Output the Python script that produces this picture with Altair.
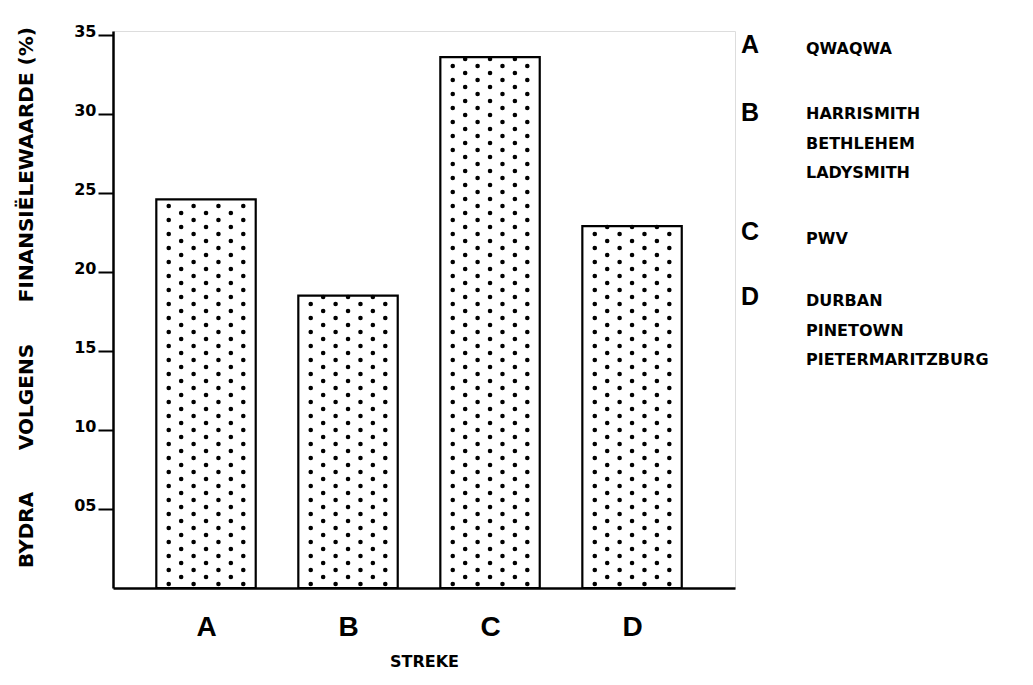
import altair as alt
import pandas as pd

# ---- data ----
regions = ["A", "B", "C", "D"]
values = [24.6, 18.5, 33.6, 22.9]
y_ticks = [5, 10, 15, 20, 25, 30, 35]
legend_letters = ["A", "B", "C", "D"]
legend_names = [
    ["QWAQWA"],
    ["HARRISMITH", "BETHLEHEM", "LADYSMITH"],
    ["PWV"],
    ["DURBAN", "PINETOWN", "PIETERMARITZBURG"],
]
y_title = "BYDRA" + "\u00a0" * 6 + "VOLGENS" + "\u00a0" * 6 + "FINANSIËLEWAARDE (%)"
x_title = "STREKE"

df = pd.DataFrame({"streek": regions, "waarde": values, "idx": list(range(len(regions)))})

W, H = 622, 557
BOLD = "DejaVu Sans"
ARIAL = "Liberation Sans"
HALF = 0.35  # half bar width in category units

label_lookup = "[" + ",".join(f"'{r}'" for r in regions) + "]"
xscale = alt.Scale(domain=[-0.655, 3.725], nice=False, zero=False)
yscale = alt.Scale(domain=[0, 35.25], nice=False, zero=True)

x_axis = alt.Axis(
    values=list(range(len(regions))),
    labelExpr=f"{label_lookup}[datum.value]",
    ticks=False, grid=False, domainColor="black", domainWidth=2.5,
    labelFont=ARIAL, labelFontSize=28, labelFontWeight="bold", labelColor="black",
    labelAngle=0, labelPadding=25, labelFlush=False, labelOverlap=False,
    titleFont=BOLD, titleFontSize=16, titleFontWeight="bold", titleColor="black",
    titleY=78, titleBaseline="alphabetic",
)
y_axis = alt.Axis(
    values=y_ticks, grid=False, domainColor="black", domainWidth=2.5,
    tickColor="black", tickWidth=2, tickSize=15,
    labelFont=BOLD, labelFontSize=16, labelFontWeight="bold", labelColor="black",
    labelPadding=2, labelBaseline="alphabetic", labelOffset=2,
    labelExpr="datum.value < 10 ? '0' + datum.value : '' + datum.value",
    titleFont=BOLD, titleFontSize=20, titleFontWeight="bold", titleColor="black",
    titleAngle=270, titleAlign="center", titleBaseline="middle",
    titleX=-87, titleY=266, titleLimit=1000,
)

base = alt.Chart(df).transform_calculate(
    lo=f"datum.idx - {HALF}", hi=f"datum.idx + {HALF}"
)

bar_fill = base.mark_rect(fill="white", stroke=None).encode(
    x=alt.X("lo:Q", scale=xscale, axis=x_axis, title=x_title),
    x2="hi:Q",
    y=alt.Y("waarde:Q", scale=yscale, axis=y_axis, title=y_title),
    y2=alt.datum(0),
)

ROW = 0.443
NCOL = 8
dots = (
    alt.Chart(df)
    .transform_calculate(row=f"sequence(0, floor((datum.waarde - 0.25) / {ROW}) + 1)")
    .transform_flatten(["row"])
    .transform_calculate(col=f"sequence(1, {NCOL})")
    .transform_flatten(["col"])
    .transform_filter("(datum.row + datum.col) % 2 == 1")
    .transform_calculate(
        dy=f"0.25 + datum.row * {ROW}",
        dx=f"datum.idx - {HALF} + datum.col * {2 * HALF / NCOL}",
    )
    .mark_circle(size=21, color="black", opacity=1)
    .encode(
        x=alt.X("dx:Q", scale=xscale),
        y=alt.Y("dy:Q", scale=yscale),
    )
)

bar_outline = base.mark_rect(fill=None, stroke="black", strokeWidth=2.2).encode(
    x=alt.X("lo:Q", scale=xscale),
    x2="hi:Q",
    y=alt.Y("waarde:Q", scale=yscale),
    y2=alt.datum(0),
)

layers = [bar_fill, dots, bar_outline]

letter_y = [22, 90, 209, 274]
names_y = [23, 88, 213, 275]
for i, (letter, names) in enumerate(zip(legend_letters, legend_names)):
    ldf = pd.DataFrame({"letter": [letter], "names": ["\n".join(names)]})
    layers.append(
        alt.Chart(ldf).mark_text(
            font=ARIAL, fontSize=25, fontWeight="bold", color="black",
            align="left", baseline="alphabetic",
        ).encode(text="letter:N", x=alt.value(628), y=alt.value(letter_y[i]))
    )
    layers.append(
        alt.Chart(ldf).mark_text(
            font=BOLD, fontSize=16, fontWeight="bold", color="black",
            align="left", baseline="alphabetic", lineBreak="\n", lineHeight=29.5,
        ).encode(text="names:N", x=alt.value(693), y=alt.value(names_y[i]))
    )

chart = (
    alt.layer(*layers)
    .properties(
        width=W, height=H,
        padding={"left": 105, "top": 23, "right": 285, "bottom": 84},
        autosize=alt.AutoSizeParams(type="none"),
    )
    .configure_view(stroke=None)
    .configure(background="white")
)

chart.save("out.html", embed_options={"renderer": "svg", "actions": False})
